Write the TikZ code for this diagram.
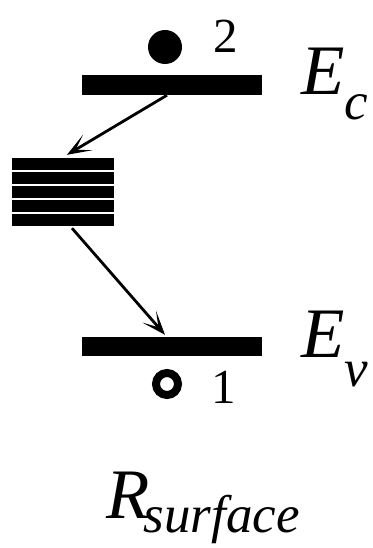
\documentclass[tikz,border=0pt]{standalone}
\usepackage{fontspec}
\setmainfont{Liberation Serif}
\newfontface\trm{Liberation Serif}
\newfontface\tit{Liberation Serif Italic}
\usetikzlibrary{arrows.meta}
\tikzset{
  bar/.style={rectangle, fill=black, inner sep=0pt, minimum width=180pt, minimum height=20pt},
  lbl/.style={inner sep=0pt, anchor=base west},
  arr/.style={line width=2.8pt, -{Stealth[length=24pt,width=18pt,inset=14pt]}},
}
\begin{document}
\begin{tikzpicture}[x=1pt,y=-1pt]
\useasboundingbox (0,0) rectangle (372,548);
% levels
\node[bar] (ec) at (172,85) {};
\node[bar, minimum height=19pt] (ev) at (172,346.5) {};
% trap stack
\node[rectangle, fill=black, inner sep=0pt, minimum width=102pt, minimum height=68pt] (trap) at (63,192) {};
\foreach \yy in {171,185,199,213}
  \draw[white, line width=2.2pt] (12,\yy) -- (114,\yy);
% carriers
\node[circle, fill=black, minimum size=34pt, inner sep=0pt] (e2) at (165,47) {};
\node[circle, draw=black, line width=8pt, minimum size=22pt, inner sep=0pt] (h1) at (167,384) {};
% labels
\node[lbl] (n2) at (213.5,53) {\fontsize{49}{55}\selectfont\trm 2};
\node[lbl] (n1) at (211.5,403) {\fontsize{49}{55}\selectfont\trm 1};
\node[lbl] (lec) at (301,95) {\fontsize{71}{80}\selectfont\tit E\raisebox{-25pt}{\fontsize{53}{60}\selectfont\tit c}};
\node[lbl] (lev) at (301,357) {\fontsize{71}{80}\selectfont\tit E\raisebox{-29pt}{\fontsize{53}{60}\selectfont\tit v}};
\node[lbl] (lr) at (106,518) {\fontsize{71}{80}\selectfont\tit R\kern-6pt\raisebox{-14pt}{\fontsize{53}{60}\selectfont\tit surface}};
% transitions
\draw[arr] ([xshift=-5pt]ec.south) -- ([xshift=4pt,yshift=3pt]trap.north);
\draw[arr] ([xshift=9pt,yshift=-2pt]trap.south) -- ([xshift=-7pt,yshift=2pt]ev.north);
\end{tikzpicture}
\end{document}
